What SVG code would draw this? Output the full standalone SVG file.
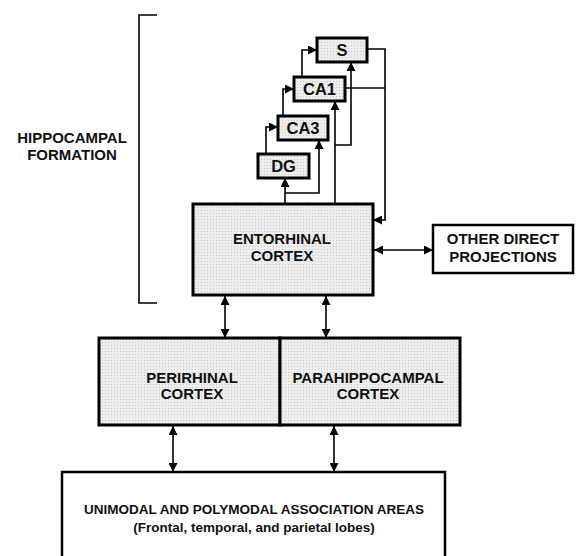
<svg xmlns="http://www.w3.org/2000/svg" width="578" height="556" viewBox="0 0 578 556">
<defs>
<marker id="ah" viewBox="0 0 10 10" refX="10" refY="5" markerWidth="11" markerHeight="9" markerUnits="userSpaceOnUse" orient="auto-start-reverse">
<path d="M0,0 L10,5 L0,10 z" fill="#000"/>
</marker>
<pattern id="dots" width="3" height="3" patternUnits="userSpaceOnUse">
<rect width="3" height="3" fill="#eeeeee"/>
<rect width="1" height="1" fill="#c8c8c8"/>
</pattern>
</defs>
<style>
.box{fill:url(#dots);stroke:#000;stroke-width:3}
.wbox{fill:#fff;stroke:#000;stroke-width:2.5}
.sbox{fill:url(#dots);stroke:#000;stroke-width:3}
text{font-family:"Liberation Sans",Arial,sans-serif;font-weight:bold;fill:#111;text-anchor:middle}
.t{font-size:15px}
.b{font-size:13.5px}
.s{font-size:16.5px}
.c line,.c polyline{stroke:#000;stroke-width:1.6;fill:none}
</style>
<rect width="578" height="556" fill="#fff"/>

<g id="bracket">
<polyline points="157,15 139,15 139,303 157,303" fill="none" stroke="#000" stroke-width="1.6"/>
</g>
<g id="hippocampal-formation">
<text class="t" x="72" y="143">HIPPOCAMPAL</text>
<text class="t" x="72" y="160">FORMATION</text>
</g>

<g class="c" id="connectors">
<line x1="285" y1="204" x2="285" y2="178" marker-end="url(#ah)"/>
<polyline points="285,193 319,193 319,140" marker-end="url(#ah)"/>
<line x1="335" y1="204" x2="335" y2="101" marker-end="url(#ah)"/>
<polyline points="335,145 351,145 351,62" marker-end="url(#ah)"/>
<polyline points="266,154 266,127 278,127" marker-end="url(#ah)"/>
<polyline points="283,116 283,89 294,89" marker-end="url(#ah)"/>
<polyline points="302,77 302,50 317,50" marker-end="url(#ah)"/>
<polyline points="367,49 385,49 385,220 373,220" marker-end="url(#ah)"/>
<line x1="345" y1="88" x2="385" y2="88"/>
<line x1="374" y1="250" x2="433" y2="250" marker-start="url(#ah)" marker-end="url(#ah)"/>
<line x1="225" y1="296" x2="225" y2="338" marker-start="url(#ah)" marker-end="url(#ah)"/>
<line x1="326" y1="296" x2="326" y2="338" marker-start="url(#ah)" marker-end="url(#ah)"/>
<line x1="173" y1="426" x2="173" y2="472" marker-start="url(#ah)" marker-end="url(#ah)"/>
<line x1="334" y1="426" x2="334" y2="472" marker-start="url(#ah)" marker-end="url(#ah)"/>
</g>

<g id="S">
<rect class="sbox" x="317" y="38" width="50" height="24"/>
<text class="s" x="342" y="56">S</text>
</g>
<g id="CA1">
<rect class="sbox" x="294" y="77" width="51" height="24"/>
<text class="s" x="319.5" y="95">CA1</text>
</g>
<g id="CA3">
<rect class="sbox" x="278" y="116" width="50" height="24"/>
<text class="s" x="303" y="134">CA3</text>
</g>
<g id="DG">
<rect class="sbox" x="258" y="154" width="51" height="24"/>
<text class="s" x="283.5" y="172">DG</text>
</g>

<g id="entorhinal">
<rect class="box" x="193" y="204" width="180" height="91"/>
<text class="t" x="282" y="244">ENTORHINAL</text>
<text class="t" x="282" y="261">CORTEX</text>
</g>

<g id="other">
<rect class="wbox" x="433" y="225" width="140" height="48"/>
<text class="t" x="503" y="244">OTHER DIRECT</text>
<text class="t" x="503" y="262">PROJECTIONS</text>
</g>

<g id="perirhinal">
<rect class="box" x="99" y="338" width="181" height="87"/>
<text class="t" x="192" y="383">PERIRHINAL</text>
<text class="t" x="192" y="399">CORTEX</text>
</g>
<g id="parahippocampal">
<rect class="box" x="280" y="338" width="180" height="87"/>
<text class="t" x="368" y="383">PARAHIPPOCAMPAL</text>
<text class="t" x="368" y="399">CORTEX</text>
</g>

<g id="association">
<rect class="wbox" x="62" y="472" width="383" height="100"/>
<text class="b" x="254" y="514">UNIMODAL AND POLYMODAL ASSOCIATION AREAS</text>
<text class="b" x="254" y="532">(Frontal, temporal, and parietal lobes)</text>
</g>
</svg>
